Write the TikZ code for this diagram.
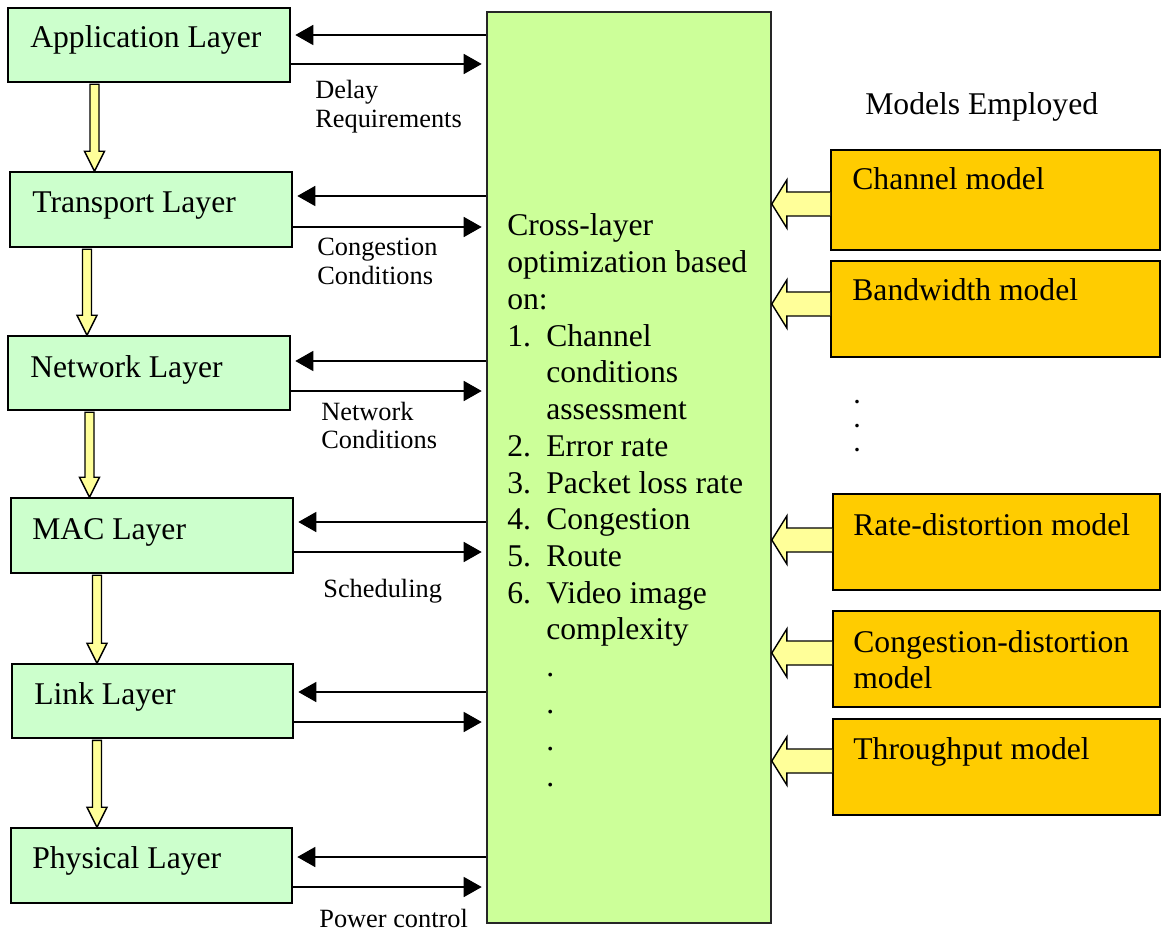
\documentclass[tikz,border=0pt]{standalone}
\usepackage{fontspec}
\setmainfont{Liberation Serif}
\usetikzlibrary{arrows.meta,calc,fit}
\definecolor{layergreen}{HTML}{CCFFCC}
\definecolor{biggreen}{HTML}{CCFF99}
\definecolor{modelorange}{HTML}{FFCC00}
\definecolor{arrowyellow}{HTML}{FFFF99}
\newcommand\lines[1]{\begin{tabular}[t]{@{}l@{}}#1\end{tabular}}
\newcommand\itm[1]{\makebox[0.78cm][l]{#1}}
\newcommand\downblock[3]{%
  \coordinate (s) at (#3,0 |- #1.south);
  \coordinate (e) at (#3,0 |- #2.north);
  \filldraw[blockarr] ($(s)+(-4.5,1.5)$) -- ($(s)+(4.5,1.5)$) -- ($(e)+(4.5,-20)$)
    -- ($(e)+(10,-20)$) -- (e) -- ($(e)+(-10,-20)$) -- ($(e)+(-4.5,-20)$) -- cycle;}
\newcommand\leftblock[3]{%
  \coordinate (s) at (#1.west |- 0,#3);
  \coordinate (e) at (#2.east |- 0,#3);
  \filldraw[blockarr] ($(s)+(0,-12)$) -- ($(e)+(15,-12)$) -- ($(e)+(15,-24)$) -- (e)
    -- ($(e)+(15,24)$) -- ($(e)+(15,12)$) -- ($(s)+(0,12)$);}
\begin{document}
\begin{tikzpicture}[x=0.02cm,y=-0.02cm,
  layerbox/.style={draw=black, line width=0.9pt, fill=layergreen, inner sep=0pt},
  bigbox/.style={draw=black!85, line width=0.9pt, fill=biggreen, inner sep=0pt},
  modelbox/.style={draw=black, line width=0.9pt, fill=modelorange, inner sep=0pt},
  maintext/.style={inner sep=0pt, anchor=base west, font=\fontsize{18pt}{20.9pt}\selectfont},
  smalltext/.style={inner sep=0pt, anchor=base west, font=\fontsize{15pt}{16.5pt}\selectfont},
  dotmark/.style={inner sep=0pt, anchor=base, font=\fontsize{12.5pt}{13pt}\selectfont\bfseries},
  flow/.style={line width=0.9pt, -{Triangle[length=0.36cm,width=0.4cm]}, shorten >=0.09cm},
  blockarr/.style={draw=black, line width=0.8pt, fill=arrowyellow, line join=miter},
]
\useasboundingbox (0,0) rectangle (1162,932);
% boxes
\node[layerbox, fit={(8,8) (290,82)}] (app) {};
\node[layerbox, fit={(10,172) (292,247)}] (trans) {};
\node[layerbox, fit={(8,336) (290,410)}] (net) {};
\node[layerbox, fit={(11,498) (293,573)}] (mac) {};
\node[layerbox, fit={(12,664) (293,738)}] (link) {};
\node[layerbox, fit={(11,828) (292,903)}] (phys) {};
\node[bigbox, fit={(487,12) (771,923)}] (big) {};
\node[modelbox, fit={(831,150) (1160,250)}] (chan) {};
\node[modelbox, fit={(831,261) (1160,357)}] (band) {};
\node[modelbox, fit={(833,494) (1160,590)}] (rate) {};
\node[modelbox, fit={(833,611) (1160,707)}] (cong) {};
\node[modelbox, fit={(833,719) (1160,815)}] (thru) {};
% flow arrows
\draw[flow] (big.west |- 0,35) -- (app.east |- 0,35);
\draw[flow] (app.east |- 0,64) -- (big.west |- 0,64);
\draw[flow] (big.west |- 0,196) -- (trans.east |- 0,196);
\draw[flow] (trans.east |- 0,227) -- (big.west |- 0,227);
\draw[flow] (big.west |- 0,361) -- (net.east |- 0,361);
\draw[flow] (net.east |- 0,391) -- (big.west |- 0,391);
\draw[flow] (big.west |- 0,522) -- (mac.east |- 0,522);
\draw[flow] (mac.east |- 0,552) -- (big.west |- 0,552);
\draw[flow] (big.west |- 0,692) -- (link.east |- 0,692);
\draw[flow] (link.east |- 0,722) -- (big.west |- 0,722);
\draw[flow] (big.west |- 0,857) -- (phys.east |- 0,857);
\draw[flow] (phys.east |- 0,887) -- (big.west |- 0,887);
% block arrows
\downblock{app}{trans}{94.5}
\downblock{trans}{net}{87}
\downblock{net}{mac}{89.5}
\downblock{mac}{link}{97}
\downblock{link}{phys}{97}
\leftblock{chan}{big}{204}
\leftblock{band}{big}{304}
\leftblock{rate}{big}{540}
\leftblock{cong}{big}{653}
\leftblock{thru}{big}{761}
% texts
\node[maintext] (tapp) at (30,48) {Application Layer};
\node[maintext] (ttrans) at (32,213) {Transport Layer};
\node[maintext] (tnet) at (30,377) {Network Layer};
\node[maintext] (tmac) at (32,539) {MAC Layer};
\node[maintext] (tlink) at (34,704) {Link Layer};
\node[maintext] (tphys) at (32,868) {Physical Layer};
\node[smalltext] (ldelay) at (315,99) {\lines{Delay\\Requirements}};
\node[smalltext] (lcong) at (317,256) {\lines{Congestion\\Conditions}};
\node[smalltext] (lnet) at (321,420) {\lines{Network\\Conditions}};
\node[smalltext] (lsched) at (323,597) {Scheduling};
\node[smalltext] (lpow) at (319,927) {Power control};
\node[maintext] (tbig) at (507,236) {\lines{Cross-layer\\optimization based\\on:\\
  \itm{1.}Channel\\\itm{}conditions\\\itm{}assessment\\\itm{2.}Error rate\\
  \itm{3.}Packet loss rate\\\itm{4.}Congestion\\\itm{5.}Route\\\itm{6.}Video image\\
  \itm{}complexity\\\itm{}.\\\itm{}.\\\itm{}.\\\itm{}.}};
\node[maintext] (tmodels) at (865,115) {Models Employed};
\node[maintext] (tchan) at (852,190) {Channel model};
\node[maintext] (tband) at (852,300) {Bandwidth model};
\node[maintext] (trate) at (853,535) {Rate-distortion model};
\node[maintext] (tcong) at (853,652) {\lines{Congestion-distortion\\model}};
\node[maintext] (tthru) at (853,759) {Throughput model};
\node[dotmark] (dot1) at (857,403) {.};
\node[dotmark] (dot2) at (857,427) {.};
\node[dotmark] (dot3) at (857,451) {.};
\end{tikzpicture}
\end{document}
